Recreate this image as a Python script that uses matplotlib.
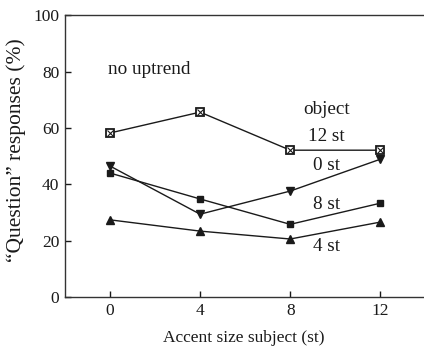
import matplotlib
matplotlib.use("Agg")
import matplotlib.pyplot as plt

plt.rcParams['font.family'] = ['Liberation Serif', 'DejaVu Serif']

x = [0, 4, 8, 12]
s12 = [58.2, 65.6, 52.1, 52.1]
s0 = [46.5, 29.4, 37.6, 48.9]
s8 = [44.0, 34.8, 25.8, 33.3]
s4 = [27.4, 23.4, 20.6, 26.6]
xticks = [0, 4, 8, 12]
yticks = [0, 20, 40, 60, 80, 100]

fig = plt.figure(figsize=(4.24, 3.52), dpi=100)
ax = fig.add_axes([0.153, 0.156, 0.845, 0.801])

fs = 12.5
afs = 13.8
lc = '#1a1a1a'
ax.plot(x, s12, color=lc, lw=1.0, marker='s', ms=6, mfc='white', mec=lc, mew=1.3, zorder=3)
ax.plot(x, s12, ls='none', marker='x', ms=3.8, mec=lc, mew=0.8, zorder=4)
ax.plot(x, s0, color=lc, lw=1.0, marker='v', ms=5.5, mfc=lc, mec=lc, zorder=3)
ax.plot(x, s8, color=lc, lw=1.0, marker='s', ms=4, mfc=lc, mec=lc, zorder=3)
ax.plot(x, s4, color=lc, lw=1.0, marker='^', ms=5.5, mfc=lc, mec=lc, zorder=3)

ax.set_xlim(-2, 13.9)
ax.set_ylim(0, 100)
ax.set_xticks(xticks)
ax.set_yticks(yticks)
ax.tick_params(direction='in', length=4, width=1, labelsize=fs, colors=lc, pad=4)
ax.spines['right'].set_visible(False)
for s in ['left', 'top', 'bottom']:
    ax.spines[s].set_color('#333333')
    ax.spines[s].set_linewidth(1.0)

ax.set_xlabel('Accent size subject (st)', fontsize=fs, color=lc, labelpad=8)
ax.set_ylabel('\u201cQuestion\u201d responses (%)', fontsize=15.5, color=lc)
ax.yaxis.set_label_coords(-0.108, 0.52)

ax.text(-0.1, 80.8, 'no uptrend', fontsize=afs, color=lc, ha='left', va='center')
ax.text(9.6, 66.7, 'object', fontsize=afs, color=lc, ha='center', va='center')
ax.text(9.6, 57.0, '12 st', fontsize=afs, color=lc, ha='center', va='center')
ax.text(9.6, 46.5, '0 st', fontsize=afs, color=lc, ha='center', va='center')
ax.text(9.6, 33.0, '8 st', fontsize=afs, color=lc, ha='center', va='center')
ax.text(9.6, 17.8, '4 st', fontsize=afs, color=lc, ha='center', va='center')

fig.savefig('out.png', dpi=100)
